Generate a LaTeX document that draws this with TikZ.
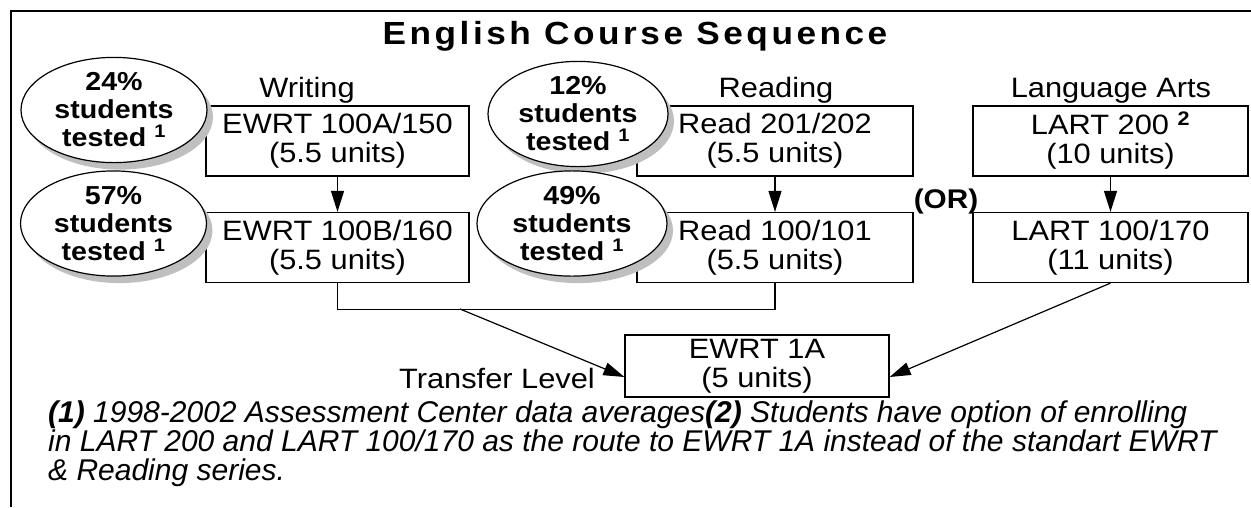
\documentclass[tikz,border=0pt]{standalone}
\usepackage{fontspec}
\setmainfont{Liberation Sans}[FakeStretch=1.1]
\newfontfamily\notefont{Liberation Sans}
\usetikzlibrary{shapes.geometric,shadows,arrows.meta}

\tikzset{
  course/.style={draw=black, fill=white, line width=1.2pt, minimum width=263pt,
    minimum height=70pt, align=center, inner sep=0pt, font=\fontsize{28}{29}\selectfont},
  tested/.style={ellipse, draw=black, fill=white, line width=1.2pt, minimum width=186pt,
    minimum height=90pt, inner sep=0pt, align=center, font=\bfseries\fontsize{26}{28}\selectfont,
    drop shadow={shadow xshift=6pt, shadow yshift=-7pt, fill=black!25, opacity=1}},
  head/.style={anchor=base, font=\fontsize{28}{29}\selectfont},
  flow/.style={line width=1.2pt, -{Triangle[length=21pt,width=13pt]}},
}

\begin{document}
\begin{tikzpicture}[x=1pt, y=-1pt, node distance=106.5pt]
  \useasboundingbox (0,0) rectangle (1251,507);
  \draw[line width=1.4pt] (11,507) -- (11,11) -- (1251,11);
  \node[anchor=base, font=\bfseries\fontsize{32}{34}\selectfont\addfontfeatures{LetterSpace=11}] (title) at (635,44) {English Course Sequence};

  % course boxes
  \node[course] (wrA) at (337.5,141) {EWRT 100A/150\\(5.5 units)};
  \node[course, below of=wrA] (wrB) {EWRT 100B/160\\(5.5 units)};
  \node[course, minimum width=276pt] (rdA) at (775,141) {Read 201/202\\(5.5 units)};
  \node[course, minimum width=276pt, below of=rdA] (rdB) {Read 100/101\\(5.5 units)};
  \node[course, minimum width=275pt] (ltA) at (1110.5,141) {LART 200 \textsuperscript{\textbf{2}}\\(10 units)};
  \node[course, minimum width=275pt, below of=ltA] (ltB) {LART 100/170\\(11 units)};
  \node[course, minimum width=264pt, minimum height=62pt] (ewrt) at (757,366) {EWRT 1A\\(5 units)};

  \node[head] (wrLabel) at (307,97) {Writing};
  \node[head] (rdLabel) at (776,97) {Reading};
  \node[head] (ltLabel) at (1111,97) {Language Arts};
  \node[head, font=\bfseries\fontsize{27}{29}\selectfont] (orLabel) at (946,208) {(OR)};
  \node[head] (transfer) at (497,388) {Transfer Level};

  % tested ovals
  \node[tested] (pctA) at (114,110) {24\%\\students\\tested \textsuperscript{1}};
  \node[tested] (pctB) at (113.5,223.5) {57\%\\students\\tested \textsuperscript{1}};
  \node[tested, minimum width=180pt, minimum height=88pt] (pctC) at (578,114) {12\%\\students\\tested \textsuperscript{1}};
  \node[tested, minimum width=190pt, minimum height=92pt] (pctD) at (572,223.5) {49\%\\students\\tested \textsuperscript{1}};

  \draw[flow] (wrA.south) -- (wrB.north);
  \draw[flow] (rdA.south) -- (rdB.north);
  \draw[flow] (ltA.south) -- (ltB.north);

  \draw[line width=1.2pt] (wrB.south) -- ++(0,26) -| (rdB.south);
  \coordinate (split) at (460,309);
  \draw[flow] (split) -- ([yshift=-11pt]ewrt.west);
  \draw[flow] (ltB.south) -- ([yshift=-11pt]ewrt.east);

  \node[anchor=north west, align=left, inner sep=0pt, font=\notefont\itshape\fontsize{30}{29}\selectfont] (notes) at (48,401)
    {\textbf{(1)} 1998-2002 Assessment Center data averages\textbf{(2)} Students have option of enrolling\\
     in LART 200 and LART 100/170 as the route to EWRT 1A instead of the standart EWRT\\
     \& Reading series.};
\end{tikzpicture}
\end{document}
